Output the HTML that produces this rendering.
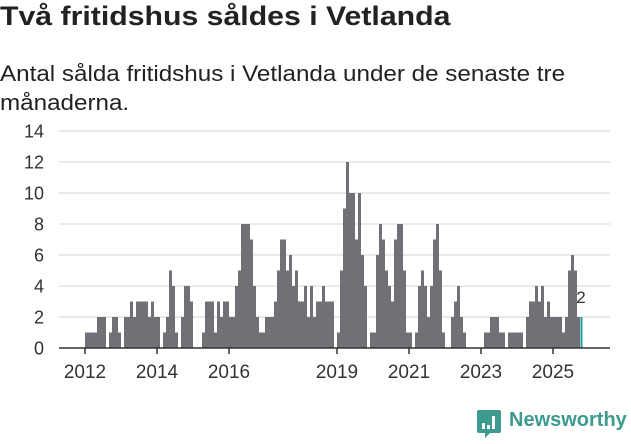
<!DOCTYPE html>
<html><head><meta charset="utf-8"><style>
body{margin:0;width:631px;height:439px;background:#fff;font-family:"Liberation Sans",sans-serif;overflow:hidden;position:relative}
h1{position:absolute;left:0;top:1px;margin:0;font-size:27px;font-weight:bold;color:#222;transform:scaleX(1.12);transform-origin:0 0;white-space:nowrap}
.sub{position:absolute;left:0;top:59px;margin:0;font-size:22px;line-height:29px;color:#222;width:540px;transform:scaleX(1.1);transform-origin:0 0}
svg{position:absolute;left:0;top:0}
</style></head><body>
<h1>Två fritidshus såldes i Vetlanda</h1>
<p class="sub">Antal sålda fritidshus i Vetlanda under de senaste tre månaderna.</p>
<svg id="c" width="631" height="439"></svg>
<script>
const values=[1,1,1,1,2,2,2,0,1,2,2,1,0,2,2,3,2,3,3,3,3,2,3,2,2,0,1,2,5,4,1,0,2,4,4,3,0,0,0,1,3,3,3,1,3,2,3,3,2,2,4,5,8,8,8,7,4,2,1,1,2,2,2,3,5,7,7,5,6,4,5,3,3,4,2,4,2,3,3,4,3,3,3,0,1,5,9,12,10,10,7,10,6,4,0,1,1,6,8,7,5,4,3,7,8,8,5,1,1,0,1,4,5,4,2,4,7,8,5,1,0,0,2,3,4,2,1,0,0,0,0,0,0,1,1,2,2,2,1,1,0,1,1,1,1,1,0,2,3,3,4,3,4,2,3,2,2,2,2,1,2,5,6,5,2,2];
const yTicks=[0,2,4,6,8,10,12,14];
const xTickYears=[2012,2014,2016,2019,2021,2023,2025];
const startYear=2012;
const NS="http://www.w3.org/2000/svg";
const svg=document.getElementById('c');
const x0=85,mw=3,base=348,unit=15.5;
const xs=i=>x0+i*mw;
const ys=v=>base-v*unit;
const yearX=y=>xs((y-startYear)*12);
function mk(t,a){const e=document.createElementNS(NS,t);for(const k in a)e.setAttribute(k,a[k]);svg.appendChild(e);return e;}
yTicks.forEach(t=>{
 if(t>0){const g=mk('line',{x1:59,x2:610,y1:ys(t),y2:ys(t),stroke:'#ddd','stroke-width':1.2});
 
 }
 const l=mk('text',{x:44,y:ys(t)+6.5,'text-anchor':'end','font-size':18,fill:'#333'});
 l.textContent=t;
 
 
});
values.forEach((v,i)=>{
 if(v<=0)return;
 const last=i===values.length-1;
 const r=mk('rect',{x:xs(i)+(last?0.5:0),y:ys(v),width:last?2.2:3,height:v*unit,fill:last?'#1a9e96':'#717077','shape-rendering':'crispEdges'});
 
 
 if(last){const t=mk('text',{x:xs(i)+1,y:ys(v)-14,'text-anchor':'middle','font-size':17,fill:'#333'});t.textContent=v;
 
 }
});
const ax=mk('line',{x1:59,x2:610,y1:base,y2:base,stroke:'#333','stroke-width':1.5});


xTickYears.forEach(y=>{
 const tk=mk('line',{x1:yearX(y),x2:yearX(y),y1:base,y2:base+6,stroke:'#333','stroke-width':1.5});
 
 
 const l=mk('text',{x:yearX(y),y:378,'text-anchor':'middle','font-size':19,fill:'#333'});
 l.textContent=y;
 
 
});
</script>
<div style="position:absolute;left:476px;top:409px;">
<svg width="26" height="30" style="position:static"><path d="M3 1h20a2 2 0 0 1 2 2v19a2 2 0 0 1-2 2h-9l-5 5v-5H3a2 2 0 0 1-2-2V3a2 2 0 0 1 2-2z" fill="#3d9a8f"/><rect x="6" y="14" width="3" height="6" fill="#fff"/><rect x="11" y="16" width="3" height="4" fill="#fff"/><rect x="16" y="7" width="3" height="13" fill="#fff"/></svg>
</div>
<div style="position:absolute;left:509px;top:409px;font-size:20px;font-weight:bold;color:#3d9a8f">Newsworthy</div>
</body></html>
